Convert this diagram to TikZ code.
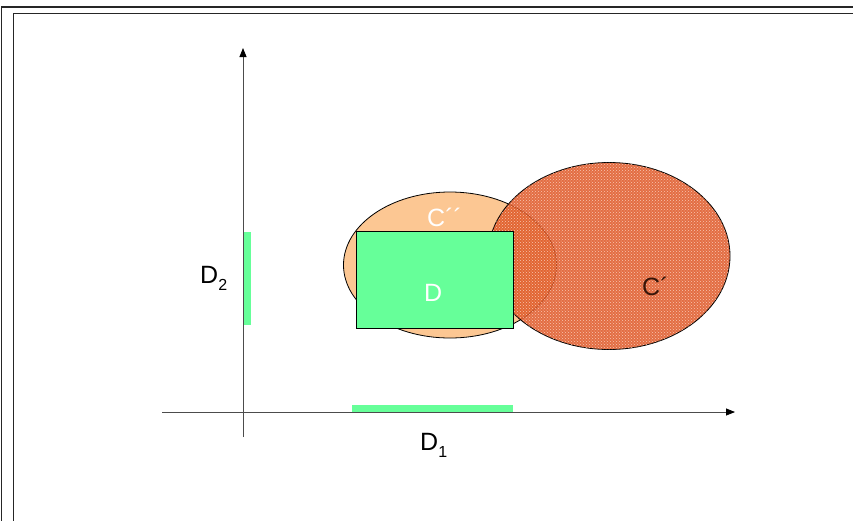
\documentclass[tikz,border=0pt]{standalone}
\usepackage{fontspec}
\setmainfont{Liberation Sans}
\usetikzlibrary{arrows.meta,patterns,shapes.geometric}
\usepackage{xcolor}

\definecolor{peach}{HTML}{FCC793}
\definecolor{mint}{HTML}{66FF99}
\definecolor{rust}{HTML}{DE5422}
\definecolor{speck}{HTML}{FBD6C4}
\newcommand{\lowsub}[1]{\raisebox{-0.3em}{\fontsize{16}{18}\selectfont #1}}

\begin{document}
\begin{tikzpicture}[
  x=1pt, y=-1pt,
  axis/.style={draw=black!70, line width=0.8pt, -{Triangle[length=9pt,width=7pt,color=black]}},
  bar/.style={fill=mint, draw=none, inner sep=0pt},
  blob/.style={ellipse, draw=black, line width=0.8pt, inner sep=0pt},
  lbl/.style={font=\fontsize{25}{30}\selectfont, inner sep=0pt, anchor=base west},
  frame/.style={draw=black!85, line width=1.2pt}
]
\useasboundingbox (0,0) rectangle (853,520);
\clip (0,0) rectangle (853,520);

% slide frames
\draw[frame] (1.5,600) -- (1.5,7) -- (900,7);
\draw[frame] (13.5,600) -- (13.5,13.5) -- (900,13.5);

% axes
\coordinate (xs) at (162,412);
\coordinate (xe) at (735,412);
\coordinate (ys) at (243,437);
\coordinate (ye) at (243,48);
\draw[axis] (xs) -- (xe);
\draw[axis] (ys) -- (ye);

% projections
\node[bar, anchor=south west, minimum width=161, minimum height=7] (p1) at (352,412) {};
\node[bar, anchor=north west, minimum width=7, minimum height=93] (p2) at (244,232) {};
\node[lbl] (d1) at (420,450) {D\lowsub{1}};
\node[lbl] (d2) at (200,283) {D\lowsub{2}};

% sets
\node[blob, fill=peach, minimum width=213, minimum height=146] (cpp) at (450,265) {};
\node[blob, fill=rust, fill opacity=0.85, minimum width=242, minimum height=187,
  postaction={pattern=crosshatch dots, pattern color=speck}] (cp) at (609,256) {};
\node[draw=black, line width=0.8pt, fill=mint, inner sep=0pt, minimum width=157, minimum height=97] (dbox) at (434.5,279.5) {};

\node[lbl, text=white] (cpplab) at (427,226) {C´´};
\node[lbl, text=black!75!rust] (cplab) at (642,295) {C´};
\node[lbl, text=white] (dlab) at (424,301) {D};
\end{tikzpicture}
\end{document}
